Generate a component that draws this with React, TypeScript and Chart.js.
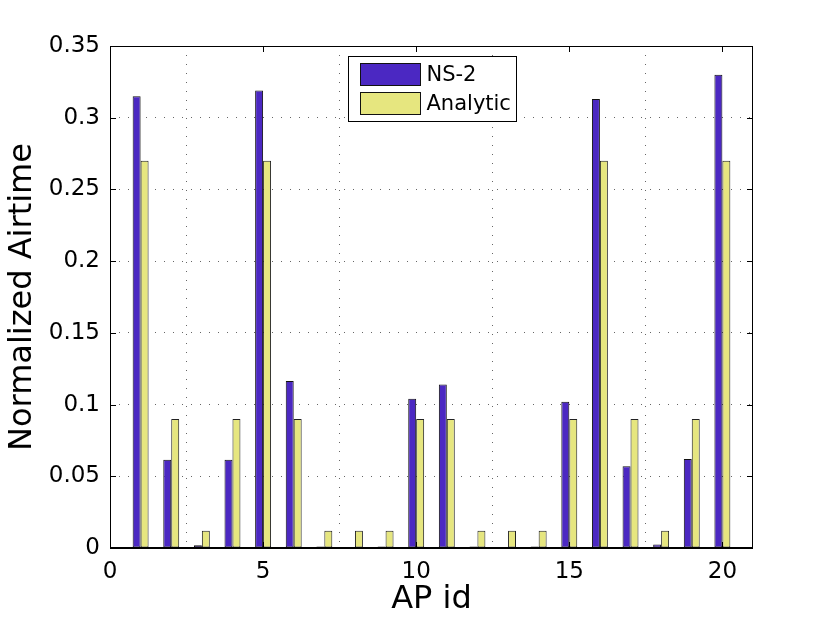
import { useEffect, useRef } from 'react';
import { Chart, registerables } from 'chart.js';

Chart.register(...registerables);

// AP ids on the x axis
const apIds = [1, 2, 3, 4, 5, 6, 7, 8, 9, 10, 11, 12, 13, 14, 15, 16, 17, 18, 19, 20];

// normalized airtime per AP
const ns2Values = [
  0.315, 0.0615, 0.002, 0.0615, 0.319, 0.1165, 0.001, 0.0003, 0.001, 0.104,
  0.114, 0.001, 0.0003, 0.001, 0.102, 0.313, 0.057, 0.0025, 0.062, 0.33,
];
const analyticValues = [
  0.27, 0.09, 0.012, 0.09, 0.27, 0.09, 0.012, 0.012, 0.012, 0.09,
  0.09, 0.012, 0.012, 0.012, 0.09, 0.27, 0.09, 0.012, 0.09, 0.27,
];

const xTicks = [0, 5, 10, 15, 20];
const yTicks = [0, 0.05, 0.1, 0.15, 0.2, 0.25, 0.3, 0.35];

const FONT = '"DejaVu Sans", "Liberation Sans", Arial, sans-serif';

// box, baseline and inward tick marks like a MATLAB axes
const framePlugin = {
  id: 'frame',
  afterDatasetsDraw(chart: any) {
    const { ctx, chartArea } = chart;
    const { left, right, top, bottom } = chartArea;
    const xs = chart.scales.x;
    const ys = chart.scales.y;
    ctx.save();
    ctx.strokeStyle = '#000';
    ctx.lineWidth = 1;
    ctx.strokeRect(left + 0.5, top + 0.5, right - left - 1, bottom - top);
    ctx.beginPath();
    xTicks.forEach((v) => {
      const px = Math.round(xs.getPixelForValue(v)) + 0.5;
      ctx.moveTo(px, bottom);
      ctx.lineTo(px, bottom - 6);
      ctx.moveTo(px, top);
      ctx.lineTo(px, top + 6);
    });
    yTicks.forEach((v) => {
      const py = Math.round(ys.getPixelForValue(v)) + 0.5;
      ctx.moveTo(left, py);
      ctx.lineTo(left + 6, py);
      ctx.moveTo(right, py);
      ctx.lineTo(right - 6, py);
    });
    ctx.stroke();
    // bar baseline
    ctx.lineWidth = 2;
    ctx.beginPath();
    const by = ys.getPixelForValue(0);
    ctx.moveTo(left, by);
    ctx.lineTo(right, by);
    ctx.stroke();
    ctx.restore();
  },
  afterDraw(chart: any) {
    const { ctx, chartArea } = chart;
    const datasets = chart.data.datasets;
    const boxW = 168;
    const boxH = 65;
    const bx = Math.round((chartArea.left + chartArea.right) / 2 - boxW / 2) + 0.5;
    const by = chartArea.top + 10.5;
    ctx.save();
    ctx.fillStyle = '#fff';
    ctx.fillRect(bx, by, boxW, boxH);
    ctx.strokeStyle = '#000';
    ctx.lineWidth = 1;
    ctx.strokeRect(bx, by, boxW, boxH);
    ctx.font = `21px ${FONT}`;
    ctx.textBaseline = 'middle';
    datasets.forEach((ds: any, i: number) => {
      const sy = by + 7 + i * 29;
      ctx.fillStyle = ds.backgroundColor;
      ctx.fillRect(bx + 12, sy, 60, 22);
      ctx.strokeStyle = '#111';
      ctx.strokeRect(bx + 12, sy, 60, 22);
      ctx.fillStyle = '#000';
      ctx.fillText(ds.label, bx + 78, sy + 12);
    });
    ctx.restore();
  },
};

const AirtimeChart = () => {
  const canvasRef = useRef<HTMLCanvasElement>(null);

  useEffect(() => {
    if (!canvasRef.current) return;
    const chart = new Chart(canvasRef.current, {
      type: 'bar',
      data: {
        datasets: [
          {
            label: 'NS-2',
            data: apIds.map((id, i) => ({ x: id, y: ns2Values[i] })),
            backgroundColor: '#4b28c2',
            borderColor: '#111',
            borderWidth: 1,
            borderSkipped: false,
            categoryPercentage: 0.52,
            barPercentage: 1,
          },
          {
            label: 'Analytic',
            data: apIds.map((id, i) => ({ x: id, y: analyticValues[i] })),
            backgroundColor: '#e6e67f',
            borderColor: '#222',
            borderWidth: 1,
            borderSkipped: false,
            categoryPercentage: 0.52,
            barPercentage: 1,
          },
        ],
      },
      options: {
        animation: false,
        responsive: false,
        layout: { padding: { left: 0, right: 77, top: 46, bottom: 0 } },
        plugins: { legend: { display: false }, tooltip: { enabled: false } },
        scales: {
          x: {
            type: 'linear',
            min: 0,
            max: 21,
            offset: false,
            afterBuildTicks: (s: any) => {
              s.ticks = xTicks.map((v) => ({ value: v }));
            },
            afterFit: (s: any) => {
              s.height = 76;
            },
            grid: {
              color: 'rgba(0,0,0,0.6)',
              lineWidth: 1,
              drawTicks: false,
              borderDash: [1, 8],
            },
            border: { display: false, dash: [1, 8] },
            ticks: {
              color: '#000',
              padding: 10,
              maxRotation: 0,
              font: { family: FONT, size: 23 },
              callback: (v: any) => String(v),
            },
            title: {
              display: true,
              text: 'AP id',
              color: '#000',
              font: { family: FONT, size: 32 },
              padding: { top: 0, bottom: 5 },
            },
          },
          y: {
            min: 0,
            max: 0.35,
            afterBuildTicks: (s: any) => {
              s.ticks = yTicks.map((v) => ({ value: v }));
            },
            afterFit: (s: any) => {
              s.width = 110;
            },
            grid: {
              color: 'rgba(0,0,0,0.6)',
              lineWidth: 1,
              drawTicks: false,
              borderDash: [1, 8],
            },
            border: { display: false, dash: [1, 8] },
            ticks: {
              color: '#000',
              padding: 10,
              font: { family: FONT, size: 23 },
              callback: (v: any) => String(Math.round(v * 100) / 100),
            },
            title: {
              display: true,
              text: 'Normalized Airtime',
              color: '#000',
              font: { family: FONT, size: 32 },
              padding: { top: 3, bottom: 0 },
            },
          },
        },
      },
      plugins: [framePlugin],
    });
    return () => {
      chart.destroy();
    };
  }, []);

  return (
    <div style={{ position: 'absolute', left: 0, top: 0, width: 830, height: 624, background: '#fff' }}>
      <canvas ref={canvasRef} width={830} height={624} style={{ display: 'block' }} />
    </div>
  );
};

export default function App() {
  return <AirtimeChart />;
}
